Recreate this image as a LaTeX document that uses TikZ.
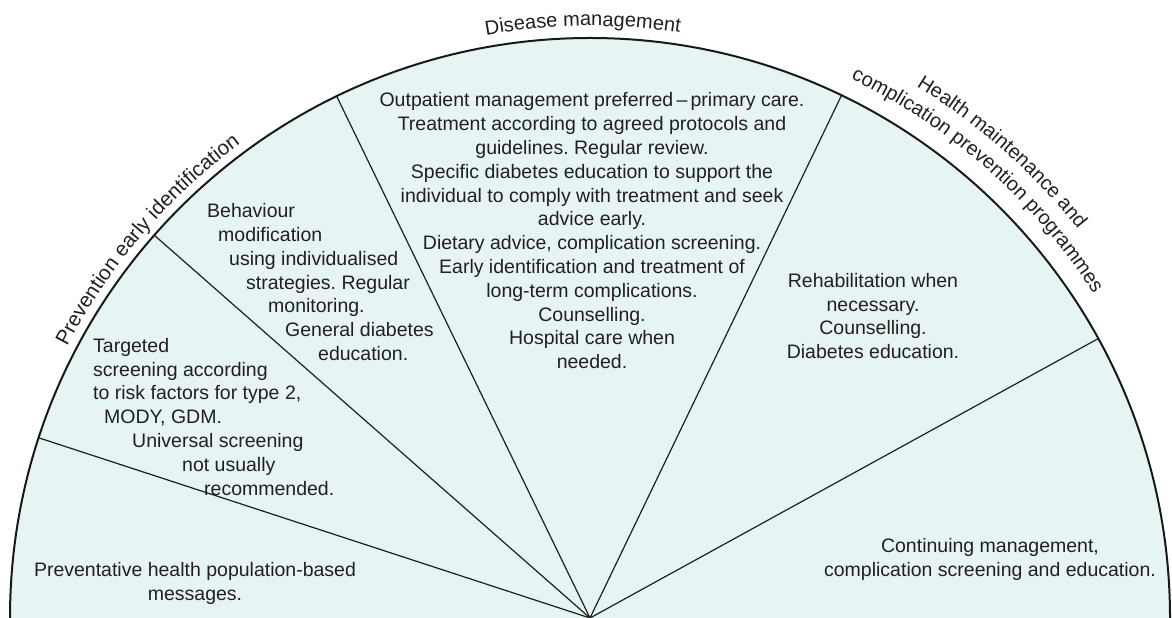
\documentclass[tikz,border=0pt]{standalone}
\usepackage{fontspec}
\setmainfont{Liberation Sans}
\usetikzlibrary{decorations.text}
\definecolor{wedgefill}{RGB}{230,244,244}
\definecolor{txt}{RGB}{35,31,32}
\newcommand\lblfont{\fontsize{20}{24}\selectfont}
\newcommand\lblfontL{\fontsize{20.6}{24}\selectfont}
\frenchspacing
\begin{document}
\begin{tikzpicture}[x=1pt,y=1pt,
  bodytext/.style={font=\fontsize{19.5}{23.8}\selectfont, text=txt, inner sep=0pt, align=center},
  lineleft/.style={font=\fontsize{19.5}{23.8}\selectfont, text=txt, inner sep=0pt, anchor=base west},
  spoke/.style={line width=1.2pt, draw=black!88},
  rim/.style={line width=2pt, draw=black!90},
  arclabel/.style={decorate, decoration={text along path, text align=center, text color=txt, text={|\lblfont|#1}}},
  arclabelL/.style={decorate, decoration={text along path, text align=center, text color=txt, text={|\lblfontL|#1}}}
]
\useasboundingbox (0,0) rectangle (1172,618);
\coordinate (O) at (590,0);
\coordinate (L) at (10,0);
\coordinate (R) at (1170,0);
\fill[wedgefill] (L) arc[start angle=180, end angle=0, radius=580] -- cycle;
\coordinate (s1) at ([shift={(161.9:580)}]O);
\coordinate (s2) at ([shift={(138.7:580)}]O);
\coordinate (s3) at ([shift={(115.9:580)}]O);
\coordinate (s4) at ([shift={(64.3:580)}]O);
\coordinate (s5) at ([shift={(28.8:580)}]O);
\draw[spoke] (O) -- (s1);
\draw[spoke] (O) -- (s2);
\draw[spoke] (O) -- (s3);
\draw[spoke] (O) -- (s4);
\draw[spoke] (O) -- (s5);
\draw[rim] (L) arc[start angle=180, end angle=0, radius=580];

% arc labels
\path[arclabel={Disease management}] ([shift={(150.7:592)}]O) arc[start angle=150.7, end angle=30.7, radius=592];
\path[arclabelL={Prevention early identification}] ([shift={(169.5:589)}]O) arc[start angle=169.5, end angle=109.5, radius=589];
\path[arclabel={Health maintenance and}] ([shift={(78.5:624)}]O) arc[start angle=78.5, end angle=18.5, radius=624];
\path[arclabel={complication prevention programmes}] ([shift={(78.5:599)}]O) arc[start angle=78.5, end angle=18.5, radius=599];

% centre block
\node[bodytext, anchor=north] (dm) at (592,525.5) {Outpatient management preferred\,–\,primary care.\\
Treatment according to agreed protocols and\\
guidelines. Regular review.\\
Specific diabetes education to support the\\
individual to comply with treatment and seek\\
advice early.\\
Dietary advice, complication screening.\\
Early identification and treatment of\\
long-term complications.\\
Counselling.\\
Hospital care when\\
needed.};

% behaviour block
\node[lineleft] (b1) at (207,400) {Behaviour};
\node[lineleft] (b2) at (218,376) {modification};
\node[lineleft] (b3) at (229,352) {using individualised};
\node[lineleft] (b4) at (246,328) {strategies. Regular};
\node[lineleft] (b5) at (268,305) {monitoring.};
\node[lineleft] (b6) at (285,281) {General diabetes};
\node[lineleft] (b7) at (318,257) {education.};

% targeted block
\node[lineleft] (t1) at (93,265) {Targeted};
\node[lineleft] (t2) at (93,241) {screening according};
\node[lineleft] (t3) at (93,218) {to risk factors for type 2,};
\node[lineleft] (t4) at (104,194) {MODY, GDM.};
\node[lineleft] (t5) at (132,170) {Universal screening};
\node[lineleft] (t6) at (182,146) {not usually};
\node[lineleft] (t7) at (204,122) {recommended.};

% preventative
\node[bodytext, anchor=north] (pv) at (195,56) {Preventative health population-based\\messages.};

% rehabilitation
\node[bodytext, anchor=north] (rh) at (873,345) {Rehabilitation when\\necessary.\\Counselling.\\Diabetes education.};

% continuing
\node[bodytext, anchor=north] (cm) at (990,79.5) {Continuing management,\\complication screening and education.};
\end{tikzpicture}
\end{document}
